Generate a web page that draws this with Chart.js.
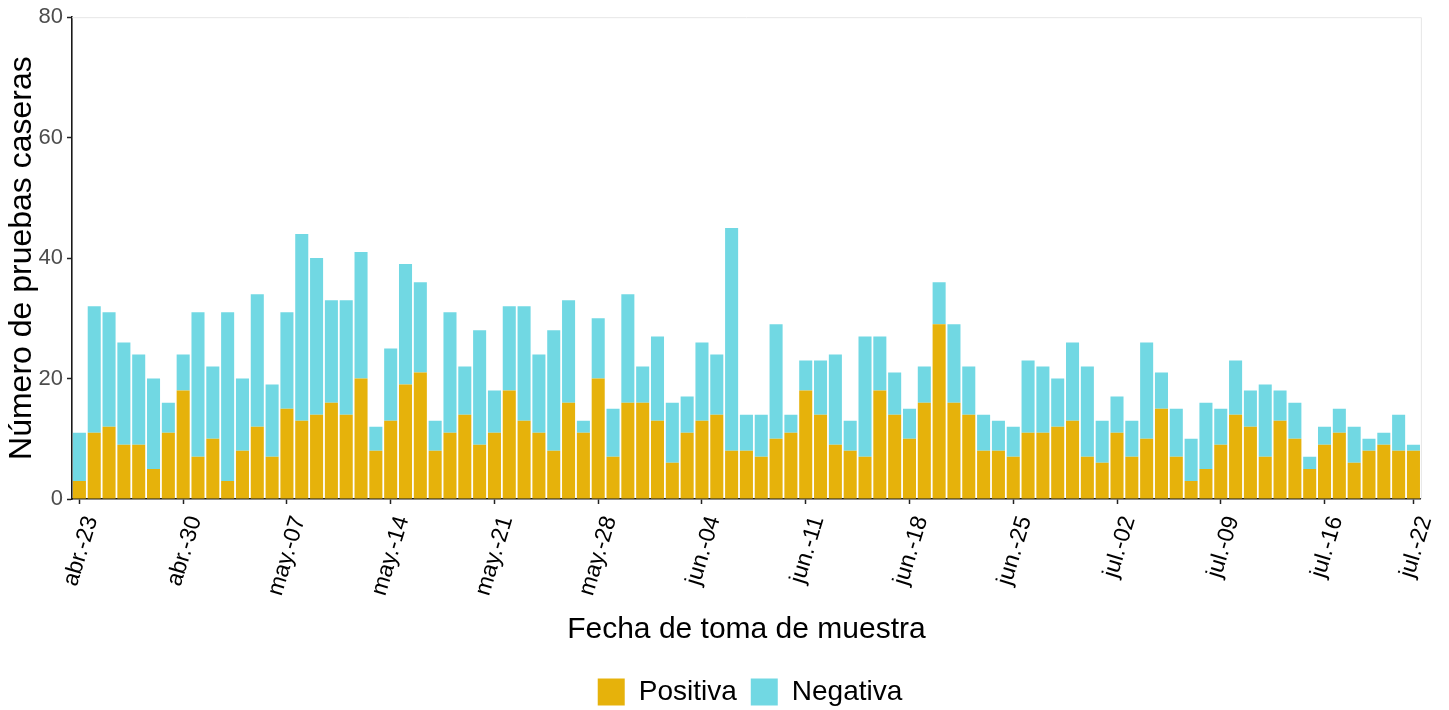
<!DOCTYPE html>
<html>
<head>
<meta charset="utf-8">
<script src="https://cdn.jsdelivr.net/npm/chart.js@4.4.1/dist/chart.umd.min.js"></script>
<style>
  html, body { margin: 0; padding: 0; background: #ffffff; }
  #c { display: block; }
</style>
</head>
<body>
<canvas id="c" width="1449" height="710"></canvas>
<script>
const categories = [
  'abr.-23','abr.-24','abr.-25','abr.-26','abr.-27','abr.-28','abr.-29','abr.-30',
  'may.-01','may.-02','may.-03','may.-04','may.-05','may.-06','may.-07','may.-08','may.-09','may.-10',
  'may.-11','may.-12','may.-13','may.-14','may.-15','may.-16','may.-17','may.-18','may.-19','may.-20',
  'may.-21','may.-22','may.-23','may.-24','may.-25','may.-26','may.-27','may.-28','may.-29','may.-30','may.-31',
  'jun.-01','jun.-02','jun.-03','jun.-04','jun.-05','jun.-06','jun.-07','jun.-08','jun.-09','jun.-10',
  'jun.-11','jun.-12','jun.-13','jun.-14','jun.-15','jun.-16','jun.-17','jun.-18','jun.-19','jun.-20',
  'jun.-21','jun.-22','jun.-23','jun.-24','jun.-25','jun.-26','jun.-27','jun.-28','jun.-29','jun.-30',
  'jul.-01','jul.-02','jul.-03','jul.-04','jul.-05','jul.-06','jul.-07','jul.-08','jul.-09','jul.-10',
  'jul.-11','jul.-12','jul.-13','jul.-14','jul.-15','jul.-16','jul.-17','jul.-18','jul.-19','jul.-20',
  'jul.-21','jul.-22'
];

const positiva = [
  3, 11, 12, 9, 9, 5, 11, 18,
  7, 10, 3, 8, 12, 7, 15, 13, 14, 16,
  14, 20, 8, 13, 19, 21, 8, 11, 14, 9,
  11, 18, 13, 11, 8, 16, 11, 20, 7, 16, 16,
  13, 6, 11, 13, 14, 8, 8, 7, 10, 11,
  18, 14, 9, 8, 7, 18, 14, 10, 16, 29,
  16, 14, 8, 8, 7, 11, 11, 12, 13, 7,
  6, 11, 7, 10, 15, 7, 3, 5, 9, 14,
  12, 7, 13, 10, 5, 9, 11, 6, 8, 9,
  8, 8
];

const negativa = [
  8, 21, 19, 17, 15, 15, 5, 6,
  24, 12, 28, 12, 22, 12, 16, 31, 26, 17,
  19, 21, 4, 12, 20, 15, 5, 20, 8, 19,
  7, 14, 19, 13, 20, 17, 2, 10, 8, 18, 6,
  14, 10, 6, 13, 10, 37, 6, 7, 19, 3,
  5, 9, 15, 5, 20, 9, 7, 5, 6, 7,
  13, 8, 6, 5, 5, 12, 11, 8, 13, 15,
  7, 6, 6, 16, 6, 8, 7, 11, 6, 9,
  6, 12, 5, 6, 2, 3, 4, 6, 2, 2,
  6, 1
];

const tickLabels = [
  'abr.-23','abr.-30','may.-07','may.-14','may.-21','may.-28','jun.-04',
  'jun.-11','jun.-18','jun.-25','jul.-02','jul.-09','jul.-16','jul.-22'
];

const seriesNames = ['Positiva', 'Negativa'];
const colPos = '#E6B20B';
const colNeg = '#71D8E3';

Chart.defaults.font.family = '"Liberation Sans", Arial, Helvetica, sans-serif';

const panelBorder = {
  id: 'panelBorder',
  afterLayout(chart) {
    const l = chart.legend;
    if (l) { l.left += 39; l.right += 39; }
  },
  beforeDatasetsDraw(chart) {
    const {ctx, chartArea: a} = chart;
    ctx.save();
    ctx.strokeStyle = '#e6e6e6';
    ctx.lineWidth = 1;
    ctx.beginPath();
    ctx.moveTo(a.left, a.top + 0.5);
    ctx.lineTo(a.right + 0.5, a.top + 0.5);
    ctx.lineTo(a.right + 0.5, a.bottom);
    ctx.stroke();
    ctx.restore();
  }
};

new Chart(document.getElementById('c'), {
  type: 'bar',
  data: {
    labels: categories,
    datasets: [
      { label: seriesNames[0], data: positiva, backgroundColor: colPos,
        barPercentage: 0.88, categoryPercentage: 1.0, borderWidth: 0 },
      { label: seriesNames[1], data: negativa, backgroundColor: colNeg,
        barPercentage: 0.88, categoryPercentage: 1.0, borderWidth: 0 }
    ]
  },
  options: {
    responsive: false,
    animation: false,
    devicePixelRatio: 1,
    layout: { padding: { top: 17, right: 27, bottom: -6, left: 0 } },
    plugins: {
      legend: {
        position: 'bottom',
        labels: {
          boxWidth: 27, boxHeight: 27, padding: 14,
          color: '#000000',
          font: { size: 28 }
        }
      },
      tooltip: { enabled: false }
    },
    scales: {
      x: {
        stacked: true,
        offset: true,
        grid: {
          offset: false,
          drawOnChartArea: false,
          drawTicks: true,
          tickLength: 5,
          tickWidth: 1.5,
          tickColor: (ctx) => {
            const lab = categories[ctx.index];
            return tickLabels.includes(lab) ? '#222222' : 'rgba(0,0,0,0)';
          }
        },
        border: { display: true, color: '#1a1a1a', width: 1.6 },
        ticks: {
          autoSkip: false,
          minRotation: 73,
          maxRotation: 73,
          padding: 9,
          labelOffset: 12,
          color: '#000000',
          font: { size: 23 },
          callback: function (val, idx) {
            const lab = categories[idx];
            return tickLabels.includes(lab) ? lab : '';
          }
        },
        title: {
          display: true,
          text: 'Fecha de toma de muestra',
          color: '#000000',
          font: { size: 30 },
          padding: { top: 4, bottom: 16 }
        },
        afterFit(scale) { scale.height = 165; }
      },
      y: {
        stacked: true,
        min: 0,
        max: 80,
        grid: {
          drawOnChartArea: false,
          drawTicks: true,
          tickLength: 5,
          tickWidth: 1.5,
          tickColor: '#222222'
        },
        border: { display: true, color: '#1a1a1a', width: 1.6 },
        ticks: {
          stepSize: 20,
          padding: 4,
          color: '#4d4d4d',
          font: { size: 22 }
        },
        title: {
          display: true,
          text: 'Número de pruebas caseras',
          color: '#000000',
          font: { size: 32 },
          padding: { top: 3, bottom: 0 }
        },
        afterFit(scale) { scale.width = 72; }
      }
    }
  },
  plugins: [panelBorder]
});
</script>
</body>
</html>
